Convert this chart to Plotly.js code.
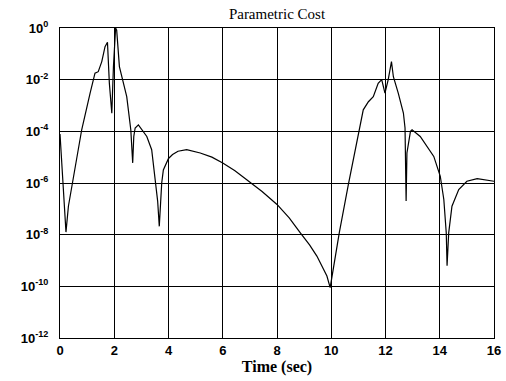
<!DOCTYPE html>
<html>
<head>
<meta charset="utf-8">
<script src="https://cdn.plot.ly/plotly-3.0.1.min.js"></script>
<style>
html,body{margin:0;padding:0;background:#fff;}
#chart{width:506px;height:381px;}
</style>
</head>
<body>
<div id="chart"></div>
<script>
// Time (sec)
var timeSec = [
  0.00, 0.22, 0.31, 0.49, 0.80, 1.11, 1.29, 1.41, 1.54, 1.66, 1.75, 1.82, 1.91, 1.97,
  2.05, 2.09, 2.19, 2.28, 2.46, 2.61, 2.68, 2.72, 2.77, 2.89, 3.20, 3.38, 3.51, 3.60,
  3.66, 3.70, 3.75, 3.81, 3.90, 4.00, 4.15, 4.35, 4.67, 5.17, 5.60, 6.00, 6.45, 6.89,
  7.45, 8.00, 8.45, 8.86, 9.20, 9.47, 9.65, 9.84, 9.96, 10.08, 10.30, 10.63, 11.06,
  11.18, 11.37, 11.55, 11.73, 11.86, 11.98, 12.10, 12.22, 12.29, 12.47, 12.66, 12.72,
  12.76, 12.79, 12.92, 12.98, 13.28, 13.78, 14.02, 14.15, 14.24, 14.27, 14.33, 14.45,
  14.70, 15.00, 15.38, 16.00
];
// Parametric cost
var cost = [
  7.9e-5, 1.26e-8, 1.26e-7, 1.35e-6, 1.15e-4, 3.0e-3, 1.78e-2, 2.04e-2, 5.0e-2, 0.19, 0.28, 7.2e-3, 5.0e-4, 3.2e-2,
  1.0, 0.83, 3.2e-2, 1.3e-2, 2.2e-3, 1.15e-4, 6.0e-6, 6.3e-5, 1.35e-4, 1.78e-4, 6.3e-5, 1.95e-5, 1.35e-6, 2.0e-7,
  2.1e-8, 1.6e-7, 1.0e-6, 3.2e-6, 5.6e-6, 8.9e-6, 1.26e-5, 1.7e-5, 1.95e-5, 1.45e-5, 1.0e-5, 6.0e-6, 3.0e-6, 1.35e-6,
  4.7e-7, 1.48e-7, 4.5e-8, 1.17e-8, 4.0e-9, 1.48e-9, 6.3e-10, 2.5e-10, 8.9e-11, 5.0e-10, 1.26e-8, 8.7e-7, 1.55e-4,
  6.8e-4, 1.4e-3, 2.2e-3, 7.2e-3, 1.0e-2, 3.0e-3, 1.0e-2, 5.0e-2, 1.3e-2, 3.0e-3, 5.1e-4, 1.35e-4,
  2.0e-7, 1.45e-5, 1.0e-4, 1.15e-4, 6.3e-5, 1.07e-5, 1.82e-6, 2.3e-7, 1.17e-8, 6.3e-10, 1.17e-8, 1.26e-7,
  5.6e-7, 1.17e-6, 1.48e-6, 1.17e-6
];
var xTicks = [0, 2, 4, 6, 8, 10, 12, 14, 16];
var yTickVals = [1e-12, 1e-10, 1e-8, 1e-6, 1e-4, 1e-2, 1];
var yTickText = ['10<sup>-12</sup>', '10<sup>-10</sup>', '10<sup>-8</sup>', '10<sup>-6</sup>', '10<sup>-4</sup>', '10<sup>-2</sup>', '10<sup>0</sup>'];

var trace = {
  x: timeSec, y: cost, type: 'scatter', mode: 'lines',
  line: {color: '#000', width: 1.2}, hoverinfo: 'skip'
};
var tickFont = {family: 'Liberation Sans, Arial, sans-serif', size: 13, color: '#000', weight: 'bold'};
var layout = {
  width: 506, height: 381,
  margin: {l: 60, r: 12, t: 28, b: 43},
  paper_bgcolor: '#fff', plot_bgcolor: '#fff',
  showlegend: false,
  title: {
    text: 'Parametric Cost',
    font: {family: 'Liberation Serif, Times New Roman, serif', size: 15, color: '#000'},
    x: 0.5, xref: 'paper', xanchor: 'center', y: 1 - 14/381, yref: 'container', yanchor: 'middle'
  },
  xaxis: {
    range: [0, 16], tickvals: xTicks, ticktext: xTicks.map(String),
    showgrid: true, gridcolor: '#000', gridwidth: 1,
    showline: true, linecolor: '#000', linewidth: 1, mirror: true,
    zeroline: false, ticks: '', ticklen: 0,
    tickfont: tickFont,
    title: {text: 'Time (sec)', standoff: 1,
      font: {family: 'Liberation Serif, Times New Roman, serif', size: 16, color: '#000', weight: 'bold'}}
  },
  yaxis: {
    type: 'log', range: [-12, 0], tickvals: yTickVals, ticktext: yTickText,
    showgrid: true, gridcolor: '#000', gridwidth: 1,
    showline: true, linecolor: '#000', linewidth: 1, mirror: true,
    zeroline: false, ticks: '', ticklen: 0, ticklabelstandoff: 8,
    tickfont: tickFont
  }
};
Plotly.newPlot('chart', [trace], layout, {staticPlot: true, displayModeBar: false});
</script>
</body>
</html>
